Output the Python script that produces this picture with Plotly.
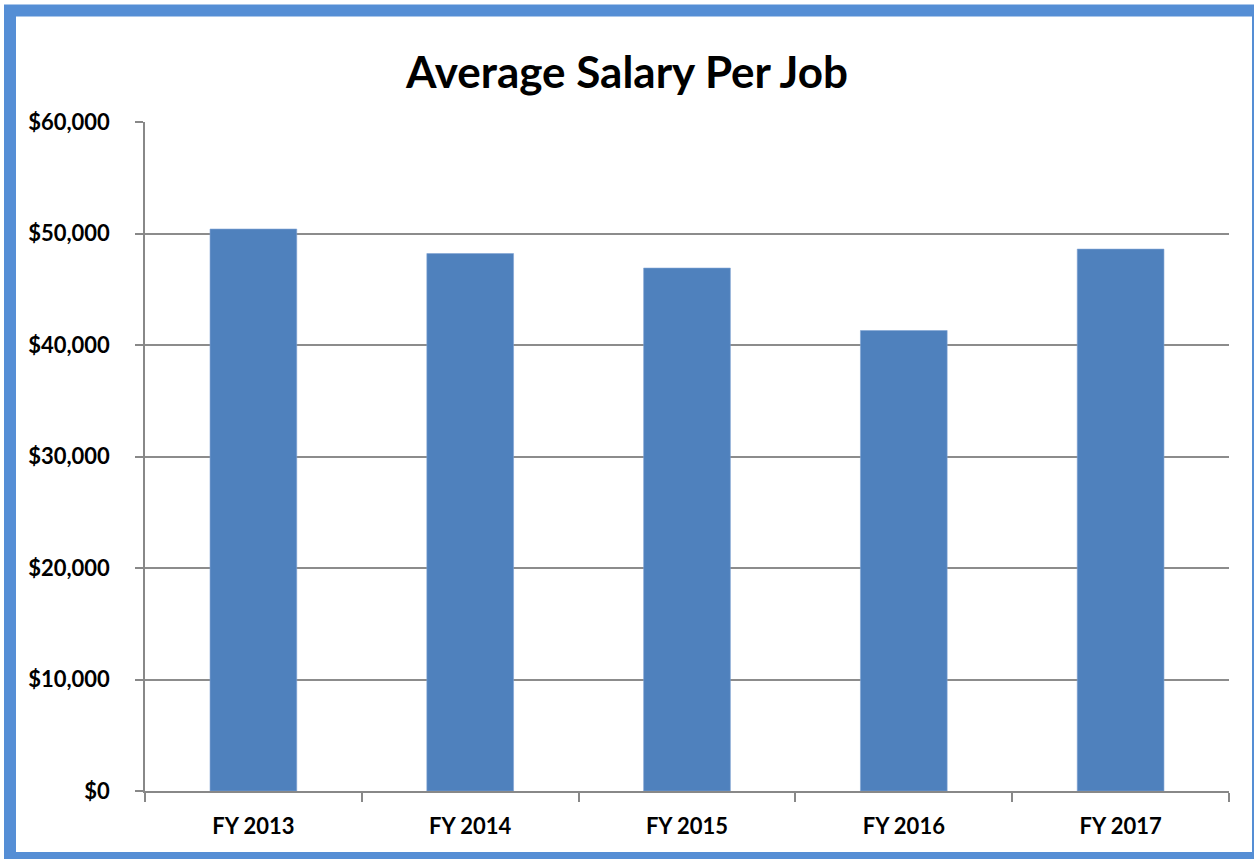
import plotly.graph_objects as go

categories = ["FY 2013", "FY 2014", "FY 2015", "FY 2016", "FY 2017"]
salaries = [50400, 48200, 46900, 41300, 48600]
y_ticks = [0, 10000, 20000, 30000, 40000, 50000, 60000]
y_tick_labels = ["$0", "$10,000", "$20,000", "$30,000", "$40,000", "$50,000", "$60,000"]

FONT = "Lato"
fig = go.Figure(go.Bar(
    x=categories, y=salaries,
    marker=dict(color="#4F81BD", line=dict(color="#7FA3D3", width=0.6)),
    width=0.4,
))

fig.update_layout(
    width=1254, height=859,
    margin=dict(l=145, r=25, t=122, b=68),
    paper_bgcolor="white", plot_bgcolor="white",
    showlegend=False,
    title=dict(text="<b>Average Salary Per Job</b>", x=0.5, xanchor="center",
               y=1 - 73 / 859, yanchor="middle",
               font=dict(family=FONT, size=44, color="black")),
    font=dict(family=FONT, color="black"),
)
fig.update_xaxes(
    type="category", showline=True, linecolor="#888888", linewidth=1.5,
    ticks="outside", tickson="boundaries", ticklen=9, tickcolor="#888888", tickwidth=1.5,
    tickfont=dict(family=FONT, size=22, color="black"),
    ticklabelstandoff=15,
    showgrid=False,
)
fig.update_yaxes(
    range=[0, 60000], tickvals=y_ticks, ticktext=["<b>%s</b>" % t for t in y_tick_labels],
    showline=True, linecolor="#888888", linewidth=1.5,
    ticks="outside", ticklen=8, tickcolor="#888888", tickwidth=1.5,
    showgrid=True, gridcolor="#8C8C8C", gridwidth=1.5,
    zeroline=False,
    tickfont=dict(family=FONT, size=22, color="black"),
    ticklabelstandoff=21,
)
fig.update_xaxes(ticktext=["<b>%s</b>" % c for c in categories], tickvals=categories)

# outer blue frame (partly cut off at right and bottom edges, as in the reference)
fig.add_shape(type="rect", xref="paper", yref="paper",
              x0=(10 - 145) / 1084, x1=(1258 - 145) / 1084,
              y0=(791 - 858) / 669, y1=(791 - 10.5) / 669,
              line=dict(color="#558ED5", width=12), fillcolor="rgba(0,0,0,0)")

fig.write_html("out.html", config={"displayModeBar": False},
               post_script="document.body.style.margin='0';document.body.style.overflow='hidden';")
